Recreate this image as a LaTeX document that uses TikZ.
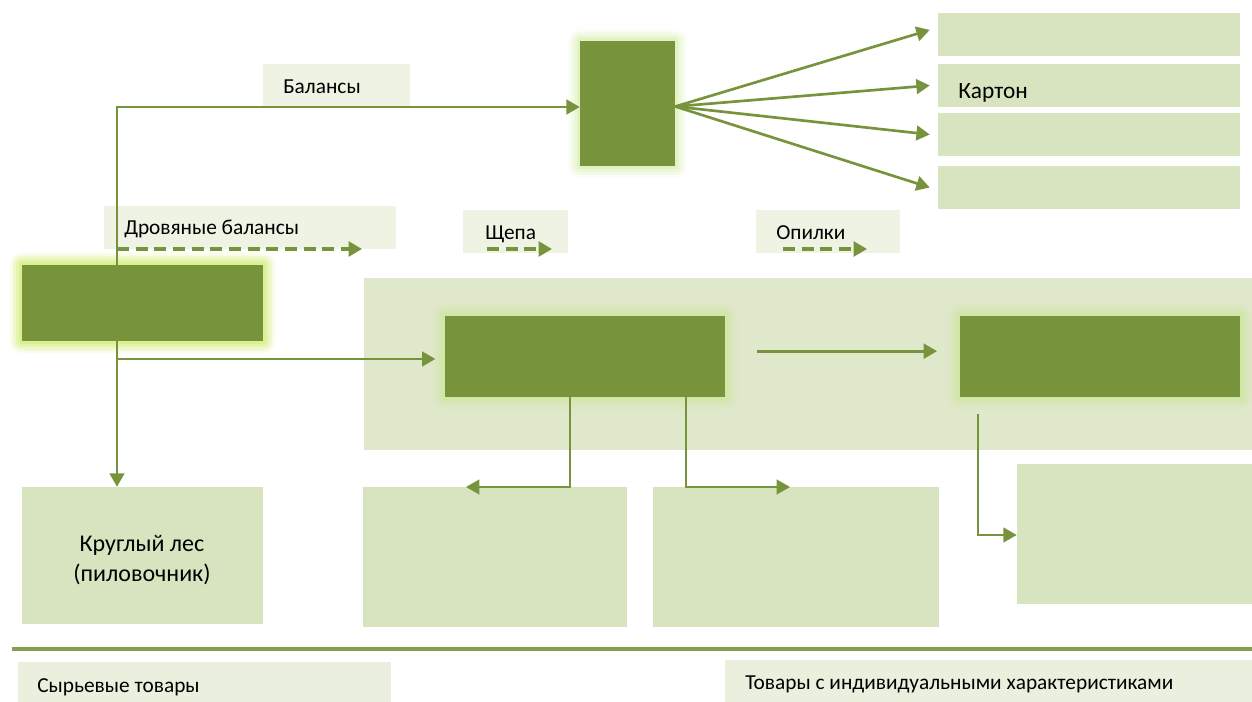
\documentclass[tikz,border=0pt]{standalone}
\usepackage{fontspec}
\setmainfont{Carlito}
\usetikzlibrary{arrows.meta,fit}
\definecolor{dk}{HTML}{77933C}
\definecolor{lt}{HTML}{D8E4BF}
\definecolor{area}{HTML}{DFE8CA}
\definecolor{pale}{HTML}{EEF3E4}
\definecolor{glowc}{HTML}{C6E68A}
\tikzset{
  box/.style={fill=lt,inner sep=0pt,draw=none},
  pbox/.style={fill=pale,inner sep=0pt,draw=none},
  dbox/.style={fill=dk,inner sep=0pt,draw=none},
  arr/.style={draw=dk,line width=2pt,-{Triangle[length=10pt,width=11pt]}},
  darr/.style={draw=dk,line width=2.4pt,dash pattern=on 9pt off 5pt,-{Triangle[length=10pt,width=11pt]}},
  lbl/.style={anchor=base west,inner sep=0pt,font=\fontsize{16}{18}\selectfont},
}
\newcommand{\glow}[5]{%
  \foreach \g/\o in {12/0.08,9/0.12,6/0.18,3/0.25}{
    \fill[#5,opacity=\o,rounded corners=\g*0.75pt] (#1-\g,#2-\g) rectangle (#3+\g,#4+\g);}}
\begin{document}
\begin{tikzpicture}[x=0.75pt,y=-0.75pt]
\useasboundingbox (0,0) rectangle (1252,702);
% big area
\node[fill=area,inner sep=0pt,fit={(364,278)(1252,450)}] (area) {};
% top right boxes
\node[box,fit={(938,13)(1240,56)}] (r1) {};
\node[box,fit={(938,64)(1240,107)}] (r2) {};
\node[box,fit={(938,113)(1240,156)}] (r3) {};
\node[box,fit={(938,166)(1240,209)}] (r4) {};
\begin{scope}
\clip (938,64) rectangle (1240,104);
\node[lbl,font=\fontsize{17.5}{20}\selectfont] (t2) at (958,99) {Картон};
\end{scope}
% label boxes
\node[pbox,fit={(263,64)(410,106)}] (lbal) {};
\node[lbl] (tbal) at (283,94) {Балансы};
\node[pbox,fit={(104,206)(396,249)}] (ldrov) {};
\node[lbl] (tdrov) at (124,235) {Дровяные балансы};
\node[pbox,fit={(463,210)(568,253)}] (lshch) {};
\node[lbl] (tshch) at (485,240) {Щепа};
\node[pbox,fit={(756,210)(900,253)}] (lopil) {};
\node[lbl] (topil) at (776,240) {Опилки};
% glows
\glow{580}{41}{675}{166}{glowc}
\glow{22}{265}{263}{341}{glowc!80!yellow}
\glow{22}{265}{263}{341}{glowc!80!yellow}
\glow{445}{316}{725}{397}{glowc}
\glow{960}{316}{1240}{397}{glowc}
% dark boxes
\node[dbox,fit={(580,41)(675,166)}] (top) {};
\node[dbox,fit={(22,265)(263,341)}] (lb) {};
\node[dbox,fit={(445,316)(725,397)}] (mid) {};
\node[dbox,fit={(960,316)(1240,397)}] (rt) {};
% bottom boxes
\node[box,fit={(22,487)(263,624)}] (krug) {};
\node[align=center,font=\fontsize{18}{22.5}\selectfont,inner sep=0pt] (tkrug) at (142,560) {Круглый лес\\(пиловочник)};
\node[box,fit={(363,487)(627,627)}] (b2) {};
\node[box,fit={(653,487)(939,627)}] (b3) {};
\node[box,fit={(1017,464)(1252,604)}] (b4) {};
% separator
\draw[draw=dk!90,line width=3pt] (12,649) coordinate (s1) -- (1252,649) coordinate (s2);
% bottom labels
\node[fill=pale!80!lt,inner sep=0pt,fit={(18,662)(391,702)}] (lsyr) {};
\node[lbl] (tsyr) at (37,692) {Сырьевые товары};
\node[fill=pale!80!lt,inner sep=0pt,fit={(725,660)(1252,702)}] (lind) {};
\node[lbl] (tind) at (745,689) {Товары с индивидуальными характеристиками};
% connectors
\coordinate (jx) at (117,0);
\coordinate (jt) at (117,107);
\draw[arr] (lb.north -| jx) -- (jt) -- (jt -| top.west);
\draw[arr] (top.east) ++(0,3) coordinate (fan) -- ([xshift=-6pt,yshift=3.4pt]r1.west);
\draw[arr] (fan) -- ([xshift=-6pt]r2.west);
\draw[arr] (fan) -- ([xshift=-6pt]r3.west);
\draw[arr] (fan) -- ([xshift=-6pt]r4.west);
\draw[darr] (117,249) coordinate (d1s) -- (362,249) coordinate (d1e);
\draw[darr] (487,249) coordinate (d2s) -- (552,249) coordinate (d2e);
\draw[darr] (783,249) coordinate (d3s) -- (867,249) coordinate (d3e);
\draw[arr,line width=1.6pt] (lb.south -| jx) -- (krug.north -| jx);
\coordinate (br) at (117,359);
\draw[arr] (br) -- ([xshift=-7pt]br -| mid.west);
\draw[arr] ([xshift=24pt,yshift=4pt]mid.east) -- ([xshift=-17pt,yshift=4pt]rt.west);
\coordinate (m1) at (570,0);
\coordinate (m2) at (686,0);
\draw[arr,line width=1.6pt] (mid.south -| m1) |- (466,487) coordinate (e1);
\draw[arr,line width=1.6pt] (mid.south -| m2) |- (790,487) coordinate (e2);
\draw[arr,line width=1.6pt] (978,414) coordinate (e3s) |- (b4.west |- 0,535);
\end{tikzpicture}
\end{document}
